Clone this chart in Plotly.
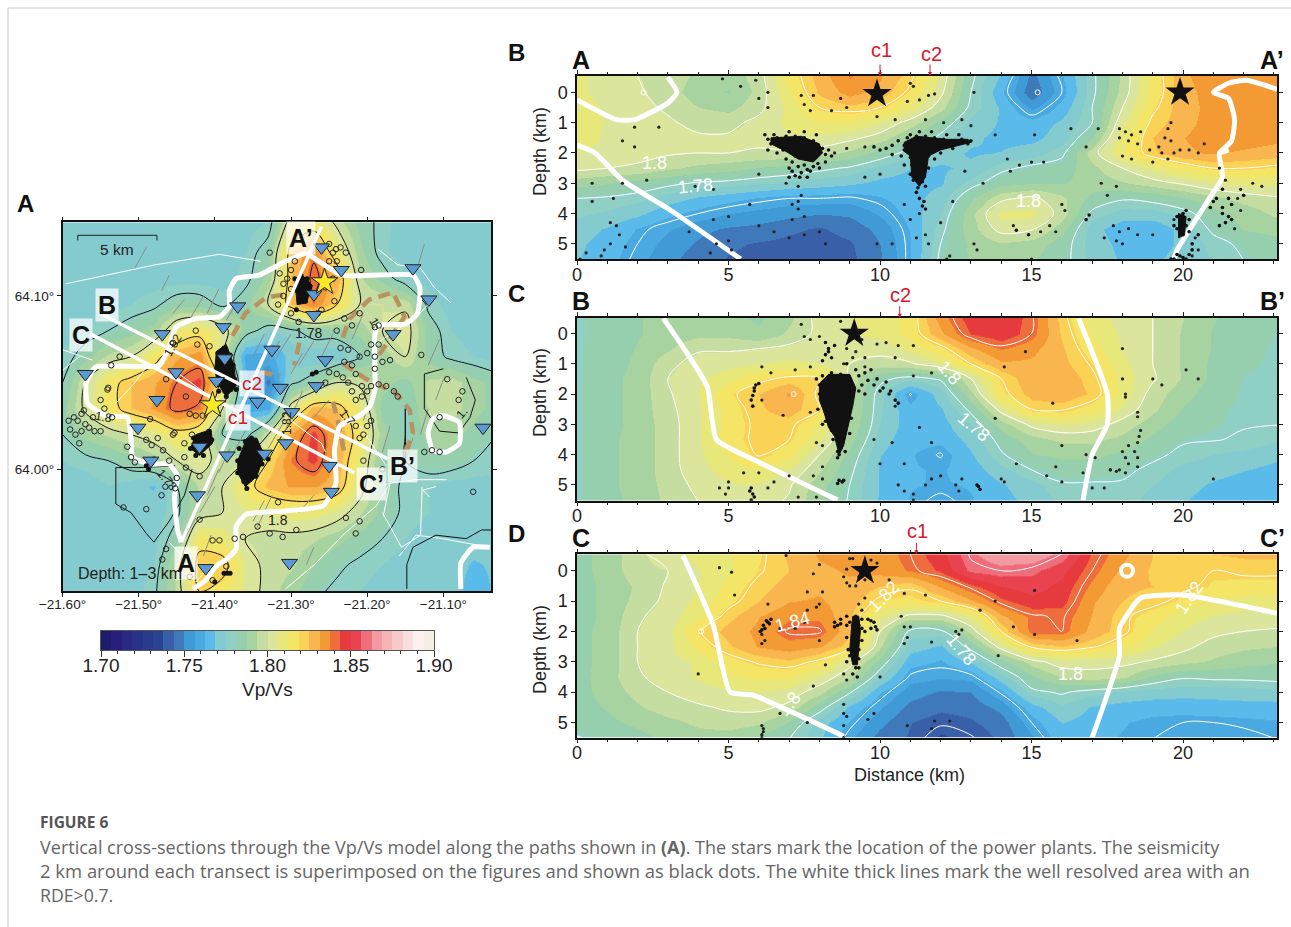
import plotly.graph_objects as go

W, H = 1291, 927
def px(x): return x / W
def py(y): return 1 - y / H

palette = ["#1b1c6c","#2a1e7d","#282a84","#293289","#2a3a8d","#2b4194","#3a5fa9","#3f79ba",
           "#3f9ad6","#49a9e0","#5abae9","#84cbd0","#8fcfc4","#96cfae","#a7d3a0","#c5dda0",
           "#dbe59c","#e8e77a","#f4e567","#f9d256","#f9b64f","#f39a34","#ee6d3c","#e63a3e",
           "#e8434e","#ee6f7b","#f29aa2","#f4b4b4","#f6c9cb","#f9dfe0","#fcefef","#f6efe4"]
colorscale = []
for i, c in enumerate(palette):
    colorscale += [[i / 32, c], [(i + 1) / 32, c]]
cbar_levels = [1.70 + (i + .5) * 0.00625 for i in range(32)]

dist_km = list(range(23)) + [23.1]
depth_km = [-0.55, 0, 0.5, 1, 1.5, 2, 2.5, 3, 3.5, 4, 4.5, 5, 5.55]

vpvs_B = [
[1.808,1.802,1.800,1.798,1.792,1.790,1.797,1.815,1.828,1.838,1.832,1.822,1.805,1.782,1.768,1.748,1.762,1.778,1.795,1.815,1.830,1.835,1.834,1.832],
[1.808,1.803,1.801,1.797,1.790,1.787,1.796,1.812,1.826,1.834,1.829,1.818,1.802,1.780,1.764,1.745,1.760,1.778,1.796,1.815,1.829,1.834,1.834,1.832],
[1.812,1.804,1.802,1.799,1.794,1.792,1.798,1.808,1.820,1.823,1.820,1.810,1.796,1.778,1.768,1.755,1.765,1.780,1.800,1.818,1.829,1.833,1.834,1.832],
[1.813,1.805,1.803,1.801,1.798,1.798,1.802,1.808,1.812,1.812,1.806,1.797,1.785,1.773,1.768,1.765,1.770,1.780,1.805,1.822,1.829,1.834,1.835,1.833],
[1.810,1.805,1.803,1.802,1.801,1.801,1.802,1.805,1.805,1.802,1.797,1.787,1.778,1.770,1.767,1.767,1.772,1.787,1.810,1.825,1.831,1.835,1.835,1.833],
[1.806,1.804,1.802,1.801,1.800,1.800,1.799,1.799,1.797,1.792,1.785,1.777,1.771,1.768,1.769,1.772,1.778,1.797,1.812,1.824,1.830,1.832,1.830,1.828],
[1.802,1.800,1.799,1.795,1.792,1.790,1.787,1.785,1.782,1.779,1.773,1.769,1.768,1.770,1.778,1.782,1.784,1.792,1.800,1.808,1.815,1.820,1.820,1.818],
[1.790,1.788,1.785,1.782,1.779,1.778,1.776,1.774,1.772,1.770,1.767,1.766,1.768,1.777,1.785,1.787,1.787,1.790,1.793,1.797,1.801,1.806,1.808,1.808],
[1.780,1.779,1.777,1.772,1.768,1.765,1.762,1.760,1.760,1.759,1.762,1.766,1.772,1.786,1.798,1.802,1.795,1.786,1.781,1.783,1.787,1.792,1.796,1.799],
[1.776,1.774,1.770,1.764,1.760,1.756,1.754,1.752,1.750,1.751,1.757,1.765,1.775,1.792,1.808,1.808,1.797,1.778,1.772,1.772,1.777,1.785,1.790,1.795],
[1.772,1.768,1.762,1.757,1.752,1.749,1.748,1.745,1.743,1.746,1.752,1.763,1.778,1.791,1.803,1.801,1.790,1.771,1.765,1.764,1.771,1.782,1.788,1.790],
[1.770,1.766,1.760,1.754,1.749,1.745,1.743,1.742,1.741,1.743,1.750,1.762,1.780,1.789,1.793,1.791,1.784,1.772,1.767,1.766,1.770,1.777,1.782,1.785],
[1.769,1.765,1.758,1.752,1.746,1.743,1.741,1.7405,1.7405,1.742,1.749,1.762,1.782,1.788,1.790,1.788,1.783,1.773,1.768,1.768,1.771,1.775,1.780,1.783],
]
vpvs_C = [
[1.7805,1.783,1.787,1.790,1.790,1.789,1.786,1.792,1.803,1.806,1.808,1.815,1.835,1.848,1.850,1.841,1.822,1.810,1.803,1.800,1.794,1.788,1.785,1.782],
[1.7805,1.783,1.787,1.790,1.792,1.792,1.789,1.795,1.802,1.806,1.808,1.815,1.830,1.844,1.849,1.840,1.824,1.812,1.805,1.800,1.793,1.787,1.784,1.781],
[1.7805,1.784,1.788,1.793,1.799,1.799,1.800,1.802,1.803,1.803,1.803,1.808,1.817,1.830,1.838,1.833,1.826,1.815,1.806,1.800,1.793,1.787,1.783,1.7805],
[1.7805,1.784,1.789,1.798,1.803,1.804,1.806,1.808,1.806,1.800,1.797,1.799,1.806,1.820,1.830,1.830,1.827,1.819,1.808,1.800,1.793,1.786,1.782,1.7805],
[1.7805,1.785,1.790,1.800,1.805,1.810,1.818,1.822,1.820,1.798,1.782,1.777,1.781,1.800,1.820,1.830,1.830,1.822,1.810,1.801,1.793,1.786,1.781,1.7805],
[1.7805,1.785,1.790,1.799,1.806,1.818,1.825,1.832,1.818,1.795,1.777,1.7595,1.772,1.792,1.817,1.828,1.830,1.824,1.810,1.797,1.790,1.784,1.7805,1.7802],
[1.7805,1.785,1.790,1.798,1.805,1.815,1.824,1.828,1.820,1.795,1.776,1.764,1.768,1.782,1.803,1.820,1.821,1.815,1.805,1.795,1.787,1.782,1.7805,1.7802],
[1.7805,1.785,1.790,1.797,1.805,1.815,1.822,1.822,1.812,1.793,1.775,1.765,1.766,1.775,1.790,1.802,1.806,1.804,1.797,1.790,1.784,1.7815,1.7805,1.7802],
[1.7805,1.786,1.790,1.797,1.805,1.816,1.822,1.820,1.808,1.790,1.772,1.764,1.764,1.771,1.783,1.791,1.795,1.795,1.792,1.786,1.781,1.7805,1.779,1.776],
[1.7805,1.786,1.790,1.797,1.805,1.813,1.821,1.815,1.800,1.785,1.769,1.763,1.7595,1.768,1.779,1.787,1.789,1.789,1.786,1.782,1.778,1.775,1.773,1.770],
[1.7805,1.786,1.790,1.797,1.804,1.809,1.812,1.806,1.795,1.782,1.768,1.763,1.762,1.765,1.773,1.780,1.784,1.784,1.782,1.778,1.773,1.771,1.769,1.767],
[1.7805,1.786,1.790,1.796,1.802,1.806,1.806,1.801,1.790,1.780,1.768,1.763,1.762,1.763,1.768,1.773,1.779,1.779,1.779,1.775,1.771,1.768,1.766,1.765],
[1.7805,1.785,1.790,1.795,1.800,1.804,1.803,1.799,1.789,1.779,1.768,1.762,1.758,1.762,1.766,1.771,1.776,1.776,1.777,1.773,1.769,1.766,1.764,1.763],
]
vpvs_D = [
[1.785,1.790,1.798,1.805,1.808,1.812,1.818,1.826,1.832,1.834,1.834,1.840,1.848,1.861,1.868,1.868,1.860,1.843,1.833,1.825,1.824,1.825,1.826,1.826],
[1.785,1.790,1.798,1.800,1.806,1.811,1.819,1.825,1.830,1.832,1.834,1.838,1.845,1.858,1.860,1.858,1.852,1.840,1.830,1.824,1.822,1.820,1.822,1.822],
[1.785,1.789,1.795,1.801,1.806,1.815,1.822,1.828,1.830,1.830,1.825,1.821,1.832,1.842,1.850,1.853,1.848,1.836,1.826,1.825,1.822,1.818,1.816,1.816],
[1.785,1.789,1.796,1.802,1.808,1.817,1.825,1.831,1.832,1.828,1.818,1.817,1.820,1.830,1.842,1.848,1.846,1.832,1.825,1.823,1.817,1.811,1.810,1.810],
[1.785,1.789,1.799,1.803,1.811,1.823,1.831,1.836,1.836,1.826,1.808,1.798,1.798,1.808,1.830,1.839,1.841,1.831,1.822,1.815,1.809,1.806,1.804,1.804],
[1.785,1.790,1.800,1.804,1.819,1.828,1.833,1.841,1.841,1.826,1.800,1.778,1.778,1.796,1.820,1.840,1.840,1.829,1.822,1.812,1.806,1.802,1.800,1.799],
[1.785,1.790,1.800,1.804,1.815,1.824,1.832,1.835,1.832,1.822,1.795,1.772,1.768,1.783,1.803,1.821,1.825,1.821,1.815,1.807,1.802,1.797,1.795,1.794],
[1.785,1.790,1.800,1.804,1.807,1.816,1.821,1.824,1.818,1.803,1.785,1.765,1.762,1.770,1.785,1.797,1.804,1.803,1.802,1.799,1.796,1.793,1.790,1.788],
[1.785,1.791,1.799,1.803,1.807,1.811,1.814,1.813,1.805,1.795,1.775,1.759,1.757,1.758,1.772,1.786,1.794,1.797,1.795,1.786,1.781,1.782,1.782,1.783],
[1.785,1.790,1.796,1.800,1.803,1.805,1.806,1.804,1.796,1.781,1.763,1.753,1.749,1.750,1.761,1.778,1.781,1.777,1.774,1.772,1.771,1.771,1.772,1.773],
[1.785,1.788,1.793,1.797,1.799,1.801,1.802,1.798,1.784,1.767,1.757,1.748,1.745,1.746,1.752,1.766,1.774,1.768,1.766,1.765,1.765,1.766,1.766,1.766],
[1.784,1.786,1.789,1.792,1.795,1.797,1.795,1.787,1.772,1.762,1.752,1.744,1.741,1.743,1.747,1.760,1.769,1.766,1.763,1.761,1.760,1.760,1.761,1.762],
[1.779,1.782,1.785,1.789,1.791,1.790,1.786,1.780,1.770,1.757,1.747,1.743,1.736,1.739,1.745,1.755,1.766,1.764,1.762,1.760,1.758,1.757,1.758,1.760],
]

map_lon = [-21.60,-21.57,-21.54,-21.51,-21.48,-21.45,-21.42,-21.39,-21.36,-21.33,-21.30,-21.27,-21.24,-21.21,-21.18,-21.15,-21.12,-21.09,-21.06,-21.03]
map_lat = [63.9295,63.945,63.96,63.975,63.99,64.005,64.02,64.035,64.05,64.065,64.08,64.095,64.11,64.125,64.143]
vpvs_map = [
[1.772,1.772,1.772,1.772,1.772,1.772,1.772,1.772,1.772,1.775,1.805,1.812,1.797,1.785,1.777,1.772,1.772,1.772,1.772,1.772],
[1.772,1.772,1.772,1.772,1.772,1.772,1.772,1.772,1.775,1.785,1.825,1.838,1.812,1.790,1.776,1.772,1.772,1.772,1.772,1.772],
[1.772,1.772,1.772,1.772,1.772,1.772,1.772,1.772,1.777,1.790,1.825,1.843,1.830,1.795,1.785,1.775,1.772,1.772,1.772,1.772],
[1.772,1.772,1.772,1.775,1.778,1.785,1.785,1.778,1.785,1.800,1.825,1.838,1.820,1.800,1.800,1.798,1.778,1.772,1.772,1.772],
[1.772,1.775,1.780,1.785,1.790,1.810,1.815,1.805,1.785,1.775,1.778,1.785,1.785,1.790,1.800,1.805,1.785,1.775,1.772,1.772],
[1.775,1.785,1.795,1.800,1.815,1.830,1.835,1.800,1.760,1.760,1.772,1.770,1.770,1.780,1.790,1.800,1.785,1.778,1.775,1.772],
[1.780,1.800,1.815,1.825,1.830,1.840,1.846,1.815,1.765,1.748,1.778,1.785,1.800,1.798,1.790,1.785,1.795,1.797,1.790,1.785],
[1.785,1.802,1.815,1.825,1.832,1.843,1.838,1.800,1.760,1.760,1.805,1.828,1.825,1.810,1.785,1.780,1.795,1.797,1.790,1.785],
[1.780,1.790,1.795,1.800,1.805,1.815,1.810,1.780,1.775,1.800,1.832,1.846,1.832,1.815,1.790,1.780,1.790,1.790,1.785,1.780],
[1.775,1.777,1.780,1.785,1.790,1.800,1.805,1.795,1.800,1.820,1.838,1.846,1.830,1.810,1.785,1.780,1.785,1.785,1.780,1.778],
[1.772,1.772,1.775,1.772,1.768,1.780,1.795,1.800,1.815,1.827,1.832,1.832,1.827,1.805,1.785,1.778,1.775,1.772,1.772,1.772],
[1.772,1.772,1.772,1.772,1.772,1.778,1.795,1.800,1.805,1.807,1.810,1.810,1.805,1.795,1.785,1.778,1.775,1.772,1.772,1.772],
[1.772,1.772,1.772,1.772,1.772,1.785,1.815,1.810,1.800,1.797,1.797,1.795,1.790,1.785,1.780,1.775,1.772,1.772,1.772,1.772],
[1.772,1.772,1.772,1.772,1.775,1.795,1.825,1.825,1.805,1.797,1.795,1.788,1.782,1.778,1.775,1.772,1.772,1.772,1.768,1.770],
[1.772,1.772,1.772,1.772,1.778,1.795,1.820,1.815,1.805,1.797,1.790,1.782,1.778,1.775,1.772,1.772,1.772,1.772,1.765,1.770],
][::-1]

# thick white lines (resolution limit)
rde_map_lon = [-21.280,-21.232,-21.140,-21.131,-21.134,-21.149,-21.184,-21.190,-21.190,-21.197,-21.210,-21.236,-21.243,-21.241,-21.258,-21.307,-21.359,-21.372,-21.372,-21.385,-21.399,-21.412,-21.429,None,
               -21.280,-21.307,-21.342,-21.372,-21.381,-21.381,-21.394,-21.425,-21.451,-21.460,-21.473,-21.556,-21.569,-21.567,-21.543,-21.515,-21.510,-21.508,-21.486,-21.460,-21.449,-21.453,-21.449,-21.444,None,
               -21.101,-21.079,-21.079,-21.096,-21.114,-21.120,-21.114,-21.101,None,
               -21.039,-21.061,-21.077,-21.077]
rde_map_lat = [64.125,64.112,64.112,64.105,64.090,64.084,64.083,64.078,64.046,64.036,64.031,64.025,64.011,63.992,63.979,63.976,63.974,63.967,63.954,63.948,63.944,63.936,63.931,None,
               64.125,64.120,64.112,64.110,64.103,64.094,64.088,64.087,64.082,64.071,64.060,64.059,64.050,64.038,64.031,64.030,64.017,64.007,64.003,64.003,63.996,63.984,63.965,63.958,None,
               64.031,64.027,64.015,64.010,64.011,64.021,64.029,64.031,None,
               63.955,63.955,63.946,63.931]
rde_B_x = [0,1.3,1.9,3,3.3,3,None,0,.6,1.5,3.1,5.4,None,23.1,22.1,21.5,21,21.5,21.7,21.6,21.2,21.5,21.2,21.3,21,19.8,19.7]
rde_B_d = [.25,.9,.9,.35,0,-.5,None,1.74,2,2.9,3.9,5.5,None,-.1,-.4,-.3,0,.2,.9,1.6,2,1.9,2,2.8,3.3,5.2,5.5]
rde_C_x = [2.85,4.3,4.6,6,8.6,None,16.55,17.5,17.5,17,16.7]
rde_C_d = [-.5,1.76,3.5,4.25,5.5,None,-.5,2,3,4,5.5]
rde_D_x = [3.5,4.5,5.05,5.8,8.8,None,17,17.9,17.9,18.6,20,23.1]
rde_D_d = [-.5,1.8,4,4.1,5.45,None,5.5,2.8,1.9,.9,.8,1.4]

# profile lines
prof_lon = [-21.444,-21.260,None,-21.547,-21.173,None,-21.563,-21.217]
prof_lat = [63.958,64.140,None,64.089,64.006,None,64.078,63.998]

# brown dashed ring
ring_lon = [-21.377,-21.360,-21.333,-21.307,None,-21.232,-21.223,-21.197,-21.166,-21.151,-21.179,-21.192,None,-21.232,-21.201,-21.162,-21.144,-21.140,-21.153,None,-21.289,-21.296,None,-21.340,-21.314,None,-21.245,-21.238,-21.229]
ring_lat = [64.077,64.090,64.099,64.101,None,64.076,64.087,64.098,64.102,64.088,64.069,64.061,None,64.061,64.052,64.044,64.034,64.021,64.007,None,64.073,64.060,None,64.056,64.054,None,64.039,64.027,64.007]

# extra black contour pieces
iso_lon = [-21.452,-21.500,-21.530,-21.530,-21.510,-21.490,-21.480,-21.460,-21.440,-21.430,None,-21.020,-21.05,-21.070,-21.110,-21.140,-21.148,-21.148,None,-21.10,-21.125,-21.125,-21.105,-21.080,-21.065,-21.058,-21.070]
iso_lat = [64.002,64.001,64.001,63.980,63.975,63.963,63.958,63.970,63.985,64.000,None,63.965,63.965,63.960,63.962,63.955,63.945,63.931,None,64.058,64.055,64.035,64.022,64.021,64.030,64.040,64.053]

road_lon = [-21.596,-21.478,-21.394,-21.340,None,-21.600,-21.578,None,-21.600,-21.561,None,-21.530,-21.505,-21.490,None,-21.450,-21.400,None,
            -21.201,-21.170,-21.135,-21.096,None,-21.158,-21.136,-21.101,-21.040,None,-21.170,-21.179,None,-21.307,-21.267,-21.232,-21.188,-21.170,None,-21.118,-21.127,-21.110,None,
            -21.186,-21.160,-21.130,-21.112,-21.090,None,-21.190,-21.135,-21.110,None,-21.460,-21.443,-21.430,None,-21.425,-21.405,None,-21.180,-21.155,-21.130,-21.128,None,-21.210,-21.190,-21.175,None,-21.30,-21.26,-21.255]
road_lat = [64.107,64.118,64.124,64.120,None,64.057,64.065,None,64.069,64.063,None,64.038,64.050,64.059,None,64.056,64.040,None,
            63.988,63.992,63.994,63.994,None,63.950,63.962,63.960,63.955,None,63.992,63.973,None,63.931,63.946,63.962,63.979,63.992,None,63.984,63.988,63.990,None,
            64.127,64.118,64.116,64.105,64.096,None,64.072,64.088,64.100,None,63.958,63.950,63.945,None,63.935,63.945,None,63.975,63.955,63.962,63.990,None,64.025,64.012,64.002,None,64.028,64.015,64.010]

fault_lon = [-21.505,-21.490,None,-21.470,-21.460,None,-21.455,-21.440,None,-21.435,-21.415,None,-21.410,-21.395,None,-21.385,-21.370,None,-21.350,-21.335,None,-21.335,-21.315,None,-21.320,-21.300,None,-21.300,-21.285,None,-21.290,-21.270,None,-21.260,-21.245,None,-21.270,-21.250,None,-21.420,-21.400,None,-21.410,-21.395,None,-21.395,-21.380,None,-21.375,-21.360,None,-21.385,-21.365,None,-21.350,-21.335,None,-21.345,-21.325,None,-21.330,-21.310,None,-21.310,-21.295,None,-21.300,-21.285,None,-21.440,-21.425,None,-21.415,-21.405,None,-21.205,-21.195,None,-21.220,-21.205,None,-21.135,-21.125,None,-21.120,-21.105,None,-21.110,-21.100,None,-21.180,-21.170,None,-21.150,-21.140,None,-21.130,-21.120,None,-21.280,-21.270,None,-21.290,-21.270]
fault_lat = [64.116,64.128,None,64.103,64.112,None,64.090,64.098,None,64.085,64.100,None,64.090,64.104,None,64.086,64.097,None,64.065,64.078,None,64.060,64.074,None,64.064,64.078,None,64.055,64.067,None,64.060,64.074,None,64.065,64.078,None,64.030,64.040,None,63.975,63.990,None,63.985,64.000,None,63.998,64.012,None,64.010,64.022,None,64.018,64.030,None,63.970,63.982,None,63.966,63.985,None,64.012,64.027,None,64.020,64.035,None,64.030,64.045,None,63.960,63.972,None,63.950,63.962,None,64.028,64.042,None,64.075,64.090,None,64.115,64.130,None,64.060,64.075,None,64.040,64.052,None,64.010,64.025,None,64.005,64.018,None,64.020,64.035,None,63.945,63.955,None,63.975,63.985,None,64.130,64.142]

quake_lon = [-21.592,-21.585,-21.580,-21.575,-21.590,-21.583,-21.575,-21.570,-21.565,-21.558,-21.550,-21.578,-21.572,-21.560,-21.550,-21.545,-21.535,-21.540,-21.525,
 -21.515,-21.510,-21.505,-21.490,-21.483,-21.475,-21.468,-21.460,-21.450,-21.452,-21.465,-21.470,-21.490,-21.520,-21.455,-21.440,-21.430,
 -21.315,-21.310,-21.305,-21.300,-21.310,-21.300,-21.295,-21.270,-21.265,-21.255,-21.245,-21.250,-21.245,-21.240,-21.250,-21.235,-21.243,-21.300,-21.290,-21.260,-21.230,-21.220,-21.240,-21.210,
 -21.235,-21.225,-21.220,-21.210,-21.200,-21.190,-21.180,-21.170,-21.195,-21.185,-21.190,-21.240,-21.232,-21.225,-21.215,-21.207,-21.200,-21.195,-21.185,-21.175,-21.165,-21.160,-21.230,-21.250,-21.255,-21.215,-21.207,-21.220,-21.190,-21.185,
 -21.200,-21.205,-21.195,-21.215,-21.210,-21.205,-21.180,-21.125,-21.115,-21.105,-21.105,-21.075,-21.080,-21.095,-21.061,-21.129,
 -21.228,-21.210,-21.215,-21.293,-21.311,-21.344,-21.328,-21.363,-21.374,-21.420,-21.394,-21.403,-21.469,-21.464,-21.433,-21.317,-21.385,-21.403,
 -21.423,-21.407,-21.425,-21.455,-21.536,-21.541,-21.464,-21.438,-21.433,-21.425,-21.416,-21.485,-21.453,-21.440,-21.438,-21.420,-21.328,-21.317,-21.208,-21.241,-21.228]
quake_lat = [64.028,64.030,64.028,64.032,64.023,64.020,64.022,64.026,64.024,64.022,64.022,64.015,64.034,64.030,64.040,64.035,64.030,64.047,64.065,
 64.013,64.007,64.004,64.017,64.014,64.018,64.011,64.005,63.995,63.989,63.990,63.985,63.977,63.978,64.020,64.015,64.020,
 64.113,64.107,64.110,64.104,64.100,64.115,64.120,64.100,64.090,64.105,64.110,64.120,64.125,64.120,64.130,64.128,64.097,64.090,64.085,64.092,64.087,64.083,64.080,64.090,
 64.070,64.069,64.060,64.065,64.067,64.065,64.062,64.063,64.072,64.072,64.058,64.055,64.053,64.050,64.055,64.048,64.045,64.048,64.049,64.048,64.045,64.042,64.062,64.056,64.050,64.040,64.042,64.045,64.082,64.083,
 64.025,64.020,64.028,64.025,64.018,64.005,64.000,64.010,64.011,64.010,64.030,64.045,64.040,64.052,63.987,64.066,
 63.972,63.970,63.963,63.965,63.961,63.967,63.963,63.961,63.960,63.971,63.959,63.959,63.948,63.954,63.938,63.981,63.944,63.936,
 64.072,64.071,64.080,64.073,64.060,64.046,64.052,64.042,64.032,64.031,64.031,64.029,64.021,64.007,64.001,63.996,64.125,64.095,64.115,64.127,64.125]
dense_lon = [-21.490,-21.485,-21.480,-21.487,
 -21.432,-21.428,-21.422,-21.416,-21.412,-21.408,-21.404,-21.425,-21.415,
 -21.396,-21.388,-21.380,-21.392,-21.384,-21.376,-21.398,-21.390,-21.382,-21.374,-21.395,-21.387,-21.379,-21.372,-21.385,-21.403,-21.398,
 -21.368,-21.360,-21.352,-21.345,-21.370,-21.362,-21.354,-21.346,-21.338,-21.370,-21.362,-21.354,-21.346,-21.338,-21.362,-21.354,-21.346,-21.358,-21.330,
 -21.295,-21.287,-21.279,-21.292,-21.284,-21.276,-21.288,-21.281,-21.293,
 -21.272,-21.267,-21.388,-21.384,-21.380,-21.400]
dense_lat = [64.002,64.004,64.006,64.000,
 64.012,64.018,64.014,64.020,64.014,64.022,64.017,64.008,64.008,
 64.067,64.070,64.066,64.060,64.060,64.060,64.052,64.052,64.053,64.052,64.045,64.045,64.046,64.046,64.042,64.040,64.035,
 64.012,64.016,64.018,64.014,64.005,64.007,64.009,64.007,64.010,63.998,64.000,64.001,64.000,64.003,63.993,63.994,63.996,63.989,64.006,
 64.110,64.112,64.110,64.103,64.104,64.105,64.097,64.097,64.092,
 64.055,64.056,63.940,63.940,63.940,63.935]
# outlines of the areas where events merge into solid black
core_map_lon = [-21.37,-21.358,-21.345,-21.335,-21.345,-21.36,-21.37,-21.37,None,-21.398,-21.385,-21.375,-21.372,-21.385,-21.397,-21.400,-21.398,None,-21.432,-21.425,-21.405,-21.403,-21.420,-21.432,None,-21.295,-21.285,-21.272,-21.280,-21.292,-21.295]
core_map_lat = [64.005,64.018,64.018,64.008,63.996,63.990,63.998,64.005,None,64.068,64.072,64.060,64.048,64.042,64.050,64.058,64.068,None,64.012,64.020,64.023,64.015,64.008,64.012,None,64.110,64.112,64.106,64.096,64.095,64.110]
core_B_x = [6.4,7.4,8.0,8.1,7.8,7.3,6.9,6.4,6.4,None,10.8,11.2,12.2,12.9,13,12,11.6,11.5,11.3,11.05,11,10.8,10.8,None,19.85,20.1,20.05,19.85,19.85]
core_B_d = [1.5,1.45,1.7,2.0,2.3,2.2,1.95,1.7,1.5,None,1.65,1.45,1.55,1.55,1.65,1.9,2.1,2.8,3.1,2.8,2.1,1.95,1.65,None,4,4.1,4.7,4.8,4]
core_C_x = [8,8.3,9,9.2,9.1,8.95,8.8,8.65,8.5,8.3,8.15,8,8]
core_C_d = [1.65,1.35,1.35,1.8,2.4,3.1,3.7,4,3.4,3.1,2.6,2.2,1.65]
core_D_x = [9.1,9.3,9.35,9.3,9.25,9.1,9,9.05,9.1]
core_D_d = [1.5,1.5,2,2.6,3.1,3.1,2.6,2,1.5]

station_lon = [-21.570,-21.501,-21.476,-21.451,-21.469,-21.389,-21.370,-21.387,-21.398,-21.420,-21.484,-21.423,-21.384,-21.335,-21.307,-21.250,-21.247,-21.302,-21.412,-21.344,-21.314,-21.299,-21.267,-21.255,-21.325,-21.270,-21.270,-21.260,-21.234,-21.140,-21.119,-21.166,-21.048]
station_lat = [64.055,64.024,64.040,64.056,64.078,64.082,64.094,64.064,64.051,64.013,64.005,63.985,64.008,64.009,64.015,64.002,63.987,63.946,63.943,64.039,64.047,64.033,64.048,64.063,64.069,64.089,64.101,64.128,64.115,64.116,64.098,64.078,64.024]
plant_lon = [-21.256,-21.403]
plant_lat = [64.108,64.037]
scale_lon = [-21.580,-21.580,-21.476,-21.476]
scale_lat = [64.132,64.135,64.135,64.132]

B_dense_x = [6.3,6.6,6.9,7.2,7.5,7.8,6.4,6.7,7.0,7.3,7.6,7.9,8.1,6.8,7.1,7.4,7.7,8.0,7.2,7.5,7.8,7.1,7.5,7.8,7.1,7.4,
 10.9,11.2,11.5,11.8,12.1,12.4,12.7,13,10.8,11.1,11.4,11.7,12,12.3,10.8,11.1,11.4,11.7,11.0,11.3,11.6,11.05,11.3,11.1,11.35,11.1,11.4,11.25,11.45,11.4,10.2,9.8,10.4,
 20,19.9,20.1,19.8,20,19.9,19.7,20.1,20.3,21.3,21.5,21.4,21,21.5,21.3,14.5,14.9,16.9,16.8,
 6.2,6.5,7,7.5,7.9,8.3,8.4,8.2,8.0,7.7,7.3,7.2,7.6,7,6.9,6.6,6.3,8.2,7.95,7.6,7.35,7,7.85,
 10.6,10.4,10,10.7,10.8,11,11.2,11.5,11.6,11.8,12,12.4,12.9,11.3,11.7,12.2,12.6,11,11.3,11.5,
 19.8,20.2,19.7,20.2,19.6,19.8,20,20.2,20.1,20.5,20.3,21.1,20.9,21.3,21.6,21.6,21.2,22]
B_dense_d = [1.55,1.5,1.45,1.45,1.5,1.6,1.7,1.7,1.65,1.7,1.7,1.75,1.85,1.9,1.9,1.9,1.9,2.0,2.1,2.1,2.2,2.3,2.4,2.45,2.6,2.65,
 1.5,1.45,1.45,1.5,1.55,1.6,1.55,1.6,1.75,1.7,1.7,1.75,1.8,1.75,1.9,1.95,1.95,1.9,2.15,2.15,2.1,2.4,2.4,2.65,2.65,2.9,2.95,3.15,3.6,3.75,1.85,1.8,2.05,
 4,4.2,4.4,4.5,4.7,5.4,5.5,5.5,5.0,3.8,4.1,4.3,3.6,3.5,3.2,4.55,4.7,4.05,4.2,
 1.4,1.4,1.3,1.3,1.4,1.9,2.1,2.3,2.5,2.6,2.45,2.75,2.8,2.5,2.2,2,1.9,2.05,2.35,2.55,2.8,2.8,2.15,
 1.6,1.75,1.9,2.1,2.4,2.7,3.3,3.1,2.5,2.2,2,1.85,1.7,1.3,1.3,1.4,1.4,1.4,3.5,3.85,
 4.1,4.2,4.4,4.6,5.5,5.35,5.45,5.35,3.9,4.7,5.2,3.5,3.8,4,3.7,4.2,4.4,3.4]
B_x = [.1,.3,.8,.9,1.1,1.1,1.3,1.4,1.6,.5,1.5,2.3,1.2,.5,1.5,1.9,2.7,1.9,3.9,4.5,4.5,5,4.6,5,5.1,4.4,3.7,5.7,6,6.5,7,7.5,8,8.2,7.3,7.4,7.1,7.3,7.5,7.1,7.3,6.9,6,8.5,8.9,9.5,9.5,10,10.4,9.9,10.8,11,11.3,11.5,11.2,11.6,12,12.3,12.2,12.4,12.8,13.4,14.3,14.6,15,14.2,15.4,15.1,13.8,13,12.7,11.5,10.5,9.9,6.3,6,6.3,5.4,4.8,5.9,7.4,7.5,7.7,8.7,8.9,8.4,7.8,10.9,11,11.3,11.6,11.8,11.1,13.1,12.1,16.1,16.3,16.8,17.2,17.3,17.5,17.8,16,15.8,15.6,15.3,14.4,13.2,13.1,15,17.7,17.8,17.4,17.9,18.2,18,18.5,19,19.7,
 17.9,18.1,18.3,18.6,17.9,18.2,18.5,18.9,19.2,19.4,19.5,19.6,19.3,19.5,19,19.7,19.9,20.2,20.5,18,18.3,19.6,20.7,21.4,21.8,21.9,22.3,22.6,21.9,21.2,21.7,20.4,20.5,20.3]
B_d = [5.5,5.3,5.4,5.2,5,4.3,4.4,4.7,5.1,3,3,2.9,3.5,3.6,1.6,1.8,1.15,1.15,3.1,3.2,4.2,4.1,5,4.9,5.2,5.3,4.6,3.7,4.4,4.6,4.8,4.7,4.6,5,3.6,3.4,3.7,3.85,4.1,4.2,3.1,3,2.7,2,1.85,1.8,2.8,2.7,5,5,3.7,4.2,4,4.7,4.8,5,4.3,5.4,5.5,3.6,2.6,3,2.6,2.4,2.3,2.2,2.3,1.4,1.4,1.1,.9,.9,.9,.8,.5,.2,0,-.2,-.45,-.4,.1,.4,.6,.2,.5,.6,.1,.3,-.3,.25,.1,.05,-.2,0,1,3.9,1.2,1.8,1.2,3,3.4,3.1,3.7,4.6,4.4,4.6,4.4,5.2,5,5.5,4.4,4.9,4.8,4.6,4.5,5,4.7,4.7,4.2,
 1.2,1.3,1.4,1.3,1.5,1.6,1.7,1.9,1.8,1.5,1.2,1.6,2,2.2,2.3,2,1.9,1.9,2,2.1,2.2,1,1.7,2.9,3.5,3.2,3,3.1,3.9,2.5,4.5,4.8,5.2,5.4]

C_dense_x = [8.1,8.4,8.7,9.0,9.3,9.6,9.9,10.1,10.3,10,8,8.3,8.6,8.9,8,8.3,8.6,8.9,8.1,8.4,8.7,9,8.2,8.5,8.8,8.3,8.6,8.8,8.4,8.7,8.6,8.75,8.7,8.65,5.9,5.85,5.8,5.8,5.75,5.8,5.75,8.65,8.75,13.25,8.3,8.2,10.6,
 7.9,9.5,9.7,9.8,9.4,9.3,9.5,10.2,10.35,10.5,7.95,8.1,8.2,9.05,9,8.45,8.85,8.6,8.6,8.2,8.3,8.4,8.1,8.5,8.9,9.2,6,5.75,5.85,13.2,13.3,5.7,5.85,8.6,8.8]
C_dense_d = [1.4,1.3,1.35,1.5,1.4,1.55,1.5,1.8,2,1.9,1.7,1.6,1.6,1.7,2,1.95,1.95,2,2.3,2.3,2.3,2.25,2.6,2.6,2.6,2.9,2.9,2.85,3.2,3.2,3.55,3.5,3.8,4,1.7,1.9,2.05,2.4,5.1,5.3,5.5,4.85,4.9,5.05,.5,.7,2.3,
 1.5,1.3,1.2,1.7,1.7,1.9,2,1.6,1.9,2.2,2.5,3,2.9,2.8,3.3,3.5,3.9,3.9,4.1,.3,.6,.8,.9,.4,1,1.2,1.65,2.2,1.8,5,5.15,5.2,5.4,4.95,4.85]
C_x = [5,5,4.9,4.7,5.5,6,6.5,6.3,7,7.3,7.8,7.9,8.1,8.1,7.9,8.1,6.8,6.1,6.4,7.2,7.7,6.1,7.7,7.4,7.5,7.7,8.7,8,8.9,9.2,9.4,9.9,10.2,10.6,11.1,9.5,9.1,9.5,8.8,10.5,11.1,11.7,10.5,9.8,10.4,10,10.8,11.3,11.7,11.7,11.5,12,12.5,12.6,11.1,10.8,10.6,11.1,12.7,14,14.1,14.5,13.8,14.1,14.8,15.7,16,15.8,15.5,16,16.8,16.7,17.4,17,17.6,17.1,18,18,18.1,18.1,18.5,18.5,19,19.3,20.1,20.5,21,18.6,18.55,18.5,18.2,18,18.4,18.5,18.1,18.2,17.9,17.6,18.5,17.8,18.1]
C_d = [4.9,5.1,5.3,5.1,4.6,4.6,4.9,5.1,4.7,5.4,4.7,5.4,4.4,3.7,3.6,4.8,2.7,1.1,1.3,1.2,1.1,2.2,2.6,-.3,.1,.2,-.4,.1,.5,.6,.2,.35,.3,.4,.4,.8,.8,1.1,1,.8,1.4,1.3,2.4,3.5,3.6,4.3,4.3,3.1,3.6,4.8,5,4.7,5,5.2,5.3,5.2,5,5.5,4.8,4.8,4.9,4.3,2.8,1.1,.6,2.3,3.7,4.4,4.7,4.9,4,4.6,5.1,5.1,4.5,4.1,.5,1.5,2,2.1,2.6,2.75,1.5,1.7,1.2,1.5,4.8,3.2,3.4,3.6,3.7,3.9,3.9,4.1,4.1,4.3,4.5,4.5,4.4,4.55,4.6]

D_dense_x = [9.2,9.1,9.3,9.1,9.3,9.1,9.2,9.1,9.3,9,9.2,9.2,8.5,8.7,8.9,9.6,9.8,6.2,6.3,6.4,6.1,8.6,9.7,
 9,9.4,9.4,8.9,9.5,8.9,9.4,8.95,9.3,8.9,9.3,9.1,9.25,8.5,8.7,9.7,9.85,9.9,6.15,6.35,6.25,6.05]
D_dense_d = [1.5,1.8,1.8,2,2,2.2,2.4,2.6,2.6,2.8,2.9,3.2,1.7,1.6,1.5,1.6,1.7,1.9,1.7,1.6,1.95,1.8,1.9,
 1.7,1.6,1.9,1.8,2,2.2,2.3,2.6,2.9,3,3.2,3.4,3.5,1.85,1.75,1.65,1.85,1.95,1.8,1.75,1.65,2]
D_x = [4,4.7,5.1,5.2,6.3,6.7,6.1,6.1,6.2,7.2,7.5,8,7.6,8,7.9,7.6,8.1,7.8,8,6.9,8.9,8.8,8.9,9,9.2,9.3,9,9.1,9.7,9.9,10.3,10.8,11.5,9.5,9.5,9.3,9.4,10.7,10.8,11,10.9,10.8,11.7,12.5,12.7,12.6,13.9,14.4,13.3,13.8,15.1,15.1,16.5,10,8.8,8.9,8.2,7.8,8.8,8.8,8.9,8.8,9.8,9.6,10.9,11.7,11.8,12.3,6.7,6.1,6.15,6.1,6.15,6.1,8.8,7.6]
D_d = [3.4,-.1,.05,.8,1.1,1.9,2.1,2.4,2.3,1.9,1.7,2.3,1.3,1.1,1.2,.7,.7,.1,-.2,-.5,.4,.2,-.05,.5,.5,.2,-.4,-.4,-.35,-.25,.3,.75,.8,.3,.9,1.1,1.3,1.5,1.85,1.85,2.2,2.4,2.35,2,1.95,2.1,2.8,1.85,1.3,1,.65,2.1,2.3,3.5,3.4,3.6,3.1,3.8,4.4,4.7,4.8,5.1,4.7,4.9,5.1,5.2,4.95,4.95,4.7,5.1,5.3,5.5,5.2,5.4,5.5,5]

stars_B = ([9.9,19.9],[.05,0])
stars_C = ([9.15],[0])
stars_D = ([9.5],[0])
loops_x = {"x2":[2.2,15.2],"x3":[7.15],"x4":[4.1]}
loops_d = {"x2":[0,0],"x3":[2],"x4":[2]}
ring_D = ([18.15],[0])
map_ticks_lon = [-21.60,-21.50,-21.40,-21.30,-21.20,-21.10]
map_tick_lon_text = ["\u221221.60\u00b0","\u221221.50\u00b0","\u221221.40\u00b0","\u221221.30\u00b0","\u221221.20\u00b0","\u221221.10\u00b0"]
map_ticks_lat = [64.00,64.10]
map_tick_lat_text = ["64.00\u00b0","64.10\u00b0"]
cbar_ticks = [1.70,1.75,1.80,1.85,1.90]
cbar_text = ["1.70","1.75","1.80","1.85","1.90"]

FONT = "Liberation Sans"
fig = go.Figure()

def contour(x, y, z, xa, ya, linecolor, first=1.70):
    fig.add_trace(go.Heatmap(x=x, y=y, z=z, xaxis=xa, yaxis=ya, colorscale=colorscale, zmin=1.70, zmax=1.90,
        zsmooth="best", showscale=False, hoverinfo="skip"))
    fig.add_trace(go.Contour(x=x, y=y, z=z, xaxis=xa, yaxis=ya, autocontour=False,
        contours=dict(start=first, end=1.90, size=0.02, coloring="none"),
        line=dict(color=linecolor, width=1, smoothing=1), showscale=False, hoverinfo="skip"))

def line(x, y, xa, ya, color, width, dash=None, opacity=1):
    fig.add_trace(go.Scatter(x=x, y=y, xaxis=xa, yaxis=ya, mode="lines", opacity=opacity,
        line=dict(color=color, width=width, dash=dash, shape="spline", smoothing=.5) if width >= 5 else dict(color=color, width=width, dash=dash),
        hoverinfo="skip", showlegend=False, connectgaps=False))

def markers(x, y, xa, ya, symbol, size, fill, lc="#111", lw=0, opacity=1):
    fig.add_trace(go.Scatter(x=x, y=y, xaxis=xa, yaxis=ya, mode="markers", opacity=opacity,
        marker=dict(symbol=symbol, size=size, color=fill, line=dict(color=lc, width=lw)),
        hoverinfo="skip", showlegend=False))

def core(x, y, xa, ya):
    fig.add_trace(go.Scatter(x=x, y=y, xaxis=xa, yaxis=ya, mode="lines", fill="toself", fillcolor="#111",
        line=dict(color="#111", width=1), hoverinfo="skip", showlegend=False))

# map panel
contour(map_lon, map_lat, vpvs_map, "x", "y", "#111", first=1.78)
line(road_lon, road_lat, "x", "y", "white", 1)
line(fault_lon, fault_lat, "x", "y", "#8c8c8c", 1)
line(iso_lon, iso_lat, "x", "y", "#111", 1)
line(ring_lon, ring_lat, "x", "y", "#b8925f", 4.5, dash="12px,7px")
line(rde_map_lon, rde_map_lat, "x", "y", "white", 5)
markers(quake_lon, quake_lat, "x", "y", "circle-open", 5.5, "#222", "#222", 1)
core(core_map_lon, core_map_lat, "x", "y")
markers(dense_lon, dense_lat, "x", "y", "circle", 5, "#111")
line(prof_lon, prof_lat, "x", "y", "white", 3.5)
markers(station_lon, station_lat, "x", "y", "triangle-down", 14, "#5b9bd5", "#222", 1)
markers(plant_lon, plant_lat, "x", "y", "star", 20, "#f7e926", "#222", 1)
line(scale_lon, scale_lat, "x", "y", "#222", 1)

# sections
for xa, ya, z, rx, rd, dx, dd, sx, sd, st, cx, cd in [
    ("x2","y2",vpvs_B,rde_B_x,rde_B_d,B_dense_x,B_dense_d,B_x,B_d,stars_B,core_B_x,core_B_d),
    ("x3","y3",vpvs_C,rde_C_x,rde_C_d,C_dense_x,C_dense_d,C_x,C_d,stars_C,core_C_x,core_C_d),
    ("x4","y4",vpvs_D,rde_D_x,rde_D_d,D_dense_x,D_dense_d,D_x,D_d,stars_D,core_D_x,core_D_d)]:
    contour(dist_km, depth_km, z, xa, ya, "white")
    line(rx, rd, xa, ya, "white", 5)
    markers(loops_x[xa], loops_d[xa], xa, ya, "circle-open", 5, "white", "white", 1)
    markers(sx, sd, xa, ya, "circle", 3.2, "#222")
    core(cx, cd, xa, ya)
    markers(dx, dd, xa, ya, "circle", 3.6, "#111")
    markers(st[0], st[1], xa, ya, "star", 22, "#111")
markers(ring_D[0], ring_D[1], "x4", "y4", "circle-open", 12, "white", "white", 4)

# colour bar
fig.add_trace(go.Heatmap(x=cbar_levels, y=[0], z=[cbar_levels], xaxis="x5", yaxis="y5", colorscale=colorscale,
                         zmin=1.70, zmax=1.90, showscale=False, hoverinfo="skip"))

tickfont = dict(family=FONT, size=15, color="#222")
layout = dict(width=W, height=H, margin=dict(l=0, r=0, t=0, b=0, autoexpand=False), paper_bgcolor="white", plot_bgcolor="white",
              showlegend=False, font=dict(family=FONT, color="#222"))
frame = dict(showline=True, linecolor="#111", linewidth=1.5, mirror="allticks", ticks="outside", showgrid=False, zeroline=False, ticklen=4, tickcolor="#222", tickfont=tickfont)

layout["xaxis"] = dict(frame, domain=[px(62.5), px(491)], range=[-21.60, -21.0375], tickvals=map_ticks_lon, ticktext=map_tick_lon_text,
                       anchor="y", ticklabelstandoff=-4, tickfont=dict(family=FONT, size=13.5, color="#222"))
layout["yaxis"] = dict(frame, domain=[py(591), py(222.3)], range=[63.9298, 64.1425], tickvals=map_ticks_lat, ticktext=map_tick_lat_text,
                       anchor="x", tickfont=dict(family=FONT, size=13.5, color="#222"))
for i, top, bottom, d0, d1 in [(2, 76, 259.3, -.54, 5.51), (3, 317.7, 500.7, -.52, 5.52), (4, 554.3, 737.7, -.54, 5.5)]:
    layout[f"xaxis{i}"] = dict(frame, domain=[px(577), px(1277)], range=[0, 23.1], dtick=5, tick0=0, anchor=f"y{i}", ticklabelstandoff=-6,
                               minor=dict(dtick=1, ticks="outside", ticklen=2.5, tickcolor="#222", showgrid=False), tickfont=dict(family=FONT, size=18, color="#222"))
    layout[f"yaxis{i}"] = dict(frame, domain=[py(bottom), py(top)], range=[d1, d0], dtick=1, tick0=0, anchor=f"x{i}", tickfont=dict(family=FONT, size=18, color="#222"))
layout["xaxis5"] = dict(domain=[px(101), px(434)], range=[1.70, 1.90], tickvals=cbar_ticks, ticktext=cbar_text, anchor="y5", showline=True, linecolor="#555", mirror=True,
                        ticks="outside", ticklen=6, tickcolor="#333", ticklabelstandoff=-8, tickfont=dict(family=FONT, size=19, color="#222"), showgrid=False, zeroline=False,
                        minor=dict(dtick=0.01, tick0=1.70, ticks="outside", ticklen=3, tickcolor="#333"))
layout["yaxis5"] = dict(domain=[py(650), py(630.5)], range=[-.5, .5], showticklabels=False, ticks="", anchor="x5", showline=True, linecolor="#555", mirror=True, showgrid=False, zeroline=False)

ann = []
def t(x, y, text, size=15, color="#222", bold=False, font=FONT, anchor="center", rot=0, bg=None, xref="paper", yref="paper"):
    ann.append(dict(x=px(x) if xref == "paper" else x, y=py(y) if yref == "paper" else y, xref=xref, yref=yref, text=f"<b>{text}</b>" if bold else text,
                    showarrow=False, font=dict(size=size, color=color, family=font), xanchor=anchor, yanchor="middle", textangle=rot,
                    bgcolor=bg, borderpad=2))
for x, y, s in [(25, 203, "A"), (516, 52, "B"), (516, 293, "C"), (516, 533, "D")]:
    t(x, y, s, 24, "#111", True)
for x, y, s in [(581, 60, "A"), (1272, 60, "A\u2019"), (581, 301, "B"), (1272, 301, "B\u2019"), (581, 538, "C"), (1272, 538, "C\u2019")]:
    t(x, y, s, 25, "#111", True)
# map labels
wb = "rgba(255,255,255,0.72)"
for x, y, s in [(186, 563, "A"), (301, 238, "A\u2019"), (107, 305, "B"), (402, 466, "B\u2019"), (81, 335, "C"), (371, 484, "C\u2019")]:
    t(x, y, s, 25, "#111", True, bg=wb)
t(252, 384, "c2", 19, "#d7182a", bg=wb)
t(238, 417, "c1", 19, "#d7182a", bg=wb)
t(117, 249, "5 km", 15.5)
t(130, 573, "Depth: 1\u20133 km", 16)
t(308, 333, "1.78", 14)
t(278, 520, "1.8", 14)
t(173, 345, "1.82", 12, rot=-60)
t(287, 423, "1.82", 12, rot=-90)
t(347, 417, "1.7", 12, rot=50)
t(103, 417, "1.8", 12, rot=10)
t(167, 480, "1.78", 12, rot=50)
t(375, 323, "1.", 12, rot=60)
t(462, 413, "1.", 12, rot=-50)
t(267, 689, "Vp/Vs", 19)
t(540, 152, "Depth (km)", 18, rot=-90)
t(540, 393, "Depth (km)", 18, rot=-90)
t(540, 650, "Depth (km)", 18, rot=-90)
t(909, 775, "Distance (km)", 18)
# red markers with arrows
for x, s, xr, yr, d, sh in [(10, "c1", "x2", "y2", -.54, 26), (11.65, "c2", "x2", "y2", -.54, 22), (10.65, "c2", "x3", "y3", -.52, 23), (11.2, "c1", "x4", "y4", -.54, 23)]:
    ann.append(dict(x=x, y=d, xref=xr, yref=yr, ax=0, ay=-13, showarrow=True, arrowhead=2, arrowsize=.8, arrowwidth=1, arrowcolor="#d7182a", text=""))
    ann.append(dict(x=x, y=d, xref=xr, yref=yr, yshift=sh, xshift=1, showarrow=False, text=s, font=dict(size=20, color="#d7182a", family=FONT)))
# white contour labels
for x, y, s, xr, yr, r in [(2.55, 2.32, "1.8", "x2", "y2", 0), (3.9, 3.1, "1.78", "x2", "y2", -5), (14.9, 3.6, "1.8", "x2", "y2", 0),
                           (12.3, 1.3, "1.8", "x3", "y3", 50), (13.1, 3.1, "1.78", "x3", "y3", 40),
                           (7.1, 1.7, "1.84", "x4", "y4", -15), (10.1, .85, "1.82", "x4", "y4", -45), (20.2, .9, "1.82", "x4", "y4", -55), (12.7, 2.6, "1.78", "x4", "y4", 50), (16.3, 3.4, "1.8", "x4", "y4", 0), (7, 4.4, "1.8", "x4", "y4", -50)]:
    t(x, y, s, 18, "white", rot=r, xref=xr, yref=yr)
# caption
cap = "Open Sans"
t(37, 822, "<b>FIGURE 6</b>", 15.5, "#555", font=cap, anchor="left")
t(37, 846.5, "Vertical cross-sections through the Vp/Vs model along the paths shown in <b>(A)</b>. The stars mark the location of the power plants. The seismicity", 18.05, "#666", font=cap, anchor="left")
t(37, 870.5, "2 km around each transect is superimposed on the figures and shown as black dots. The white thick lines mark the well resolved area with an", 18.46, "#666", font=cap, anchor="left")
t(37, 895, "RDE&gt;0.7.", 17.7, "#666", font=cap, anchor="left")
layout["annotations"] = ann
layout["shapes"] = [dict(type="line", xref="paper", yref="paper", x0=px(8), x1=1, y0=py(8), y1=py(8), line=dict(color="#c8c8c8", width=1)),
                    dict(type="line", xref="paper", yref="paper", x0=px(8), x1=px(8), y0=py(8), y1=0, line=dict(color="#c8c8c8", width=1))]
fig.update_layout(**layout)
fig.write_html("out.html", config=dict(displayModeBar=False), post_script="document.body.style.margin='0';")
